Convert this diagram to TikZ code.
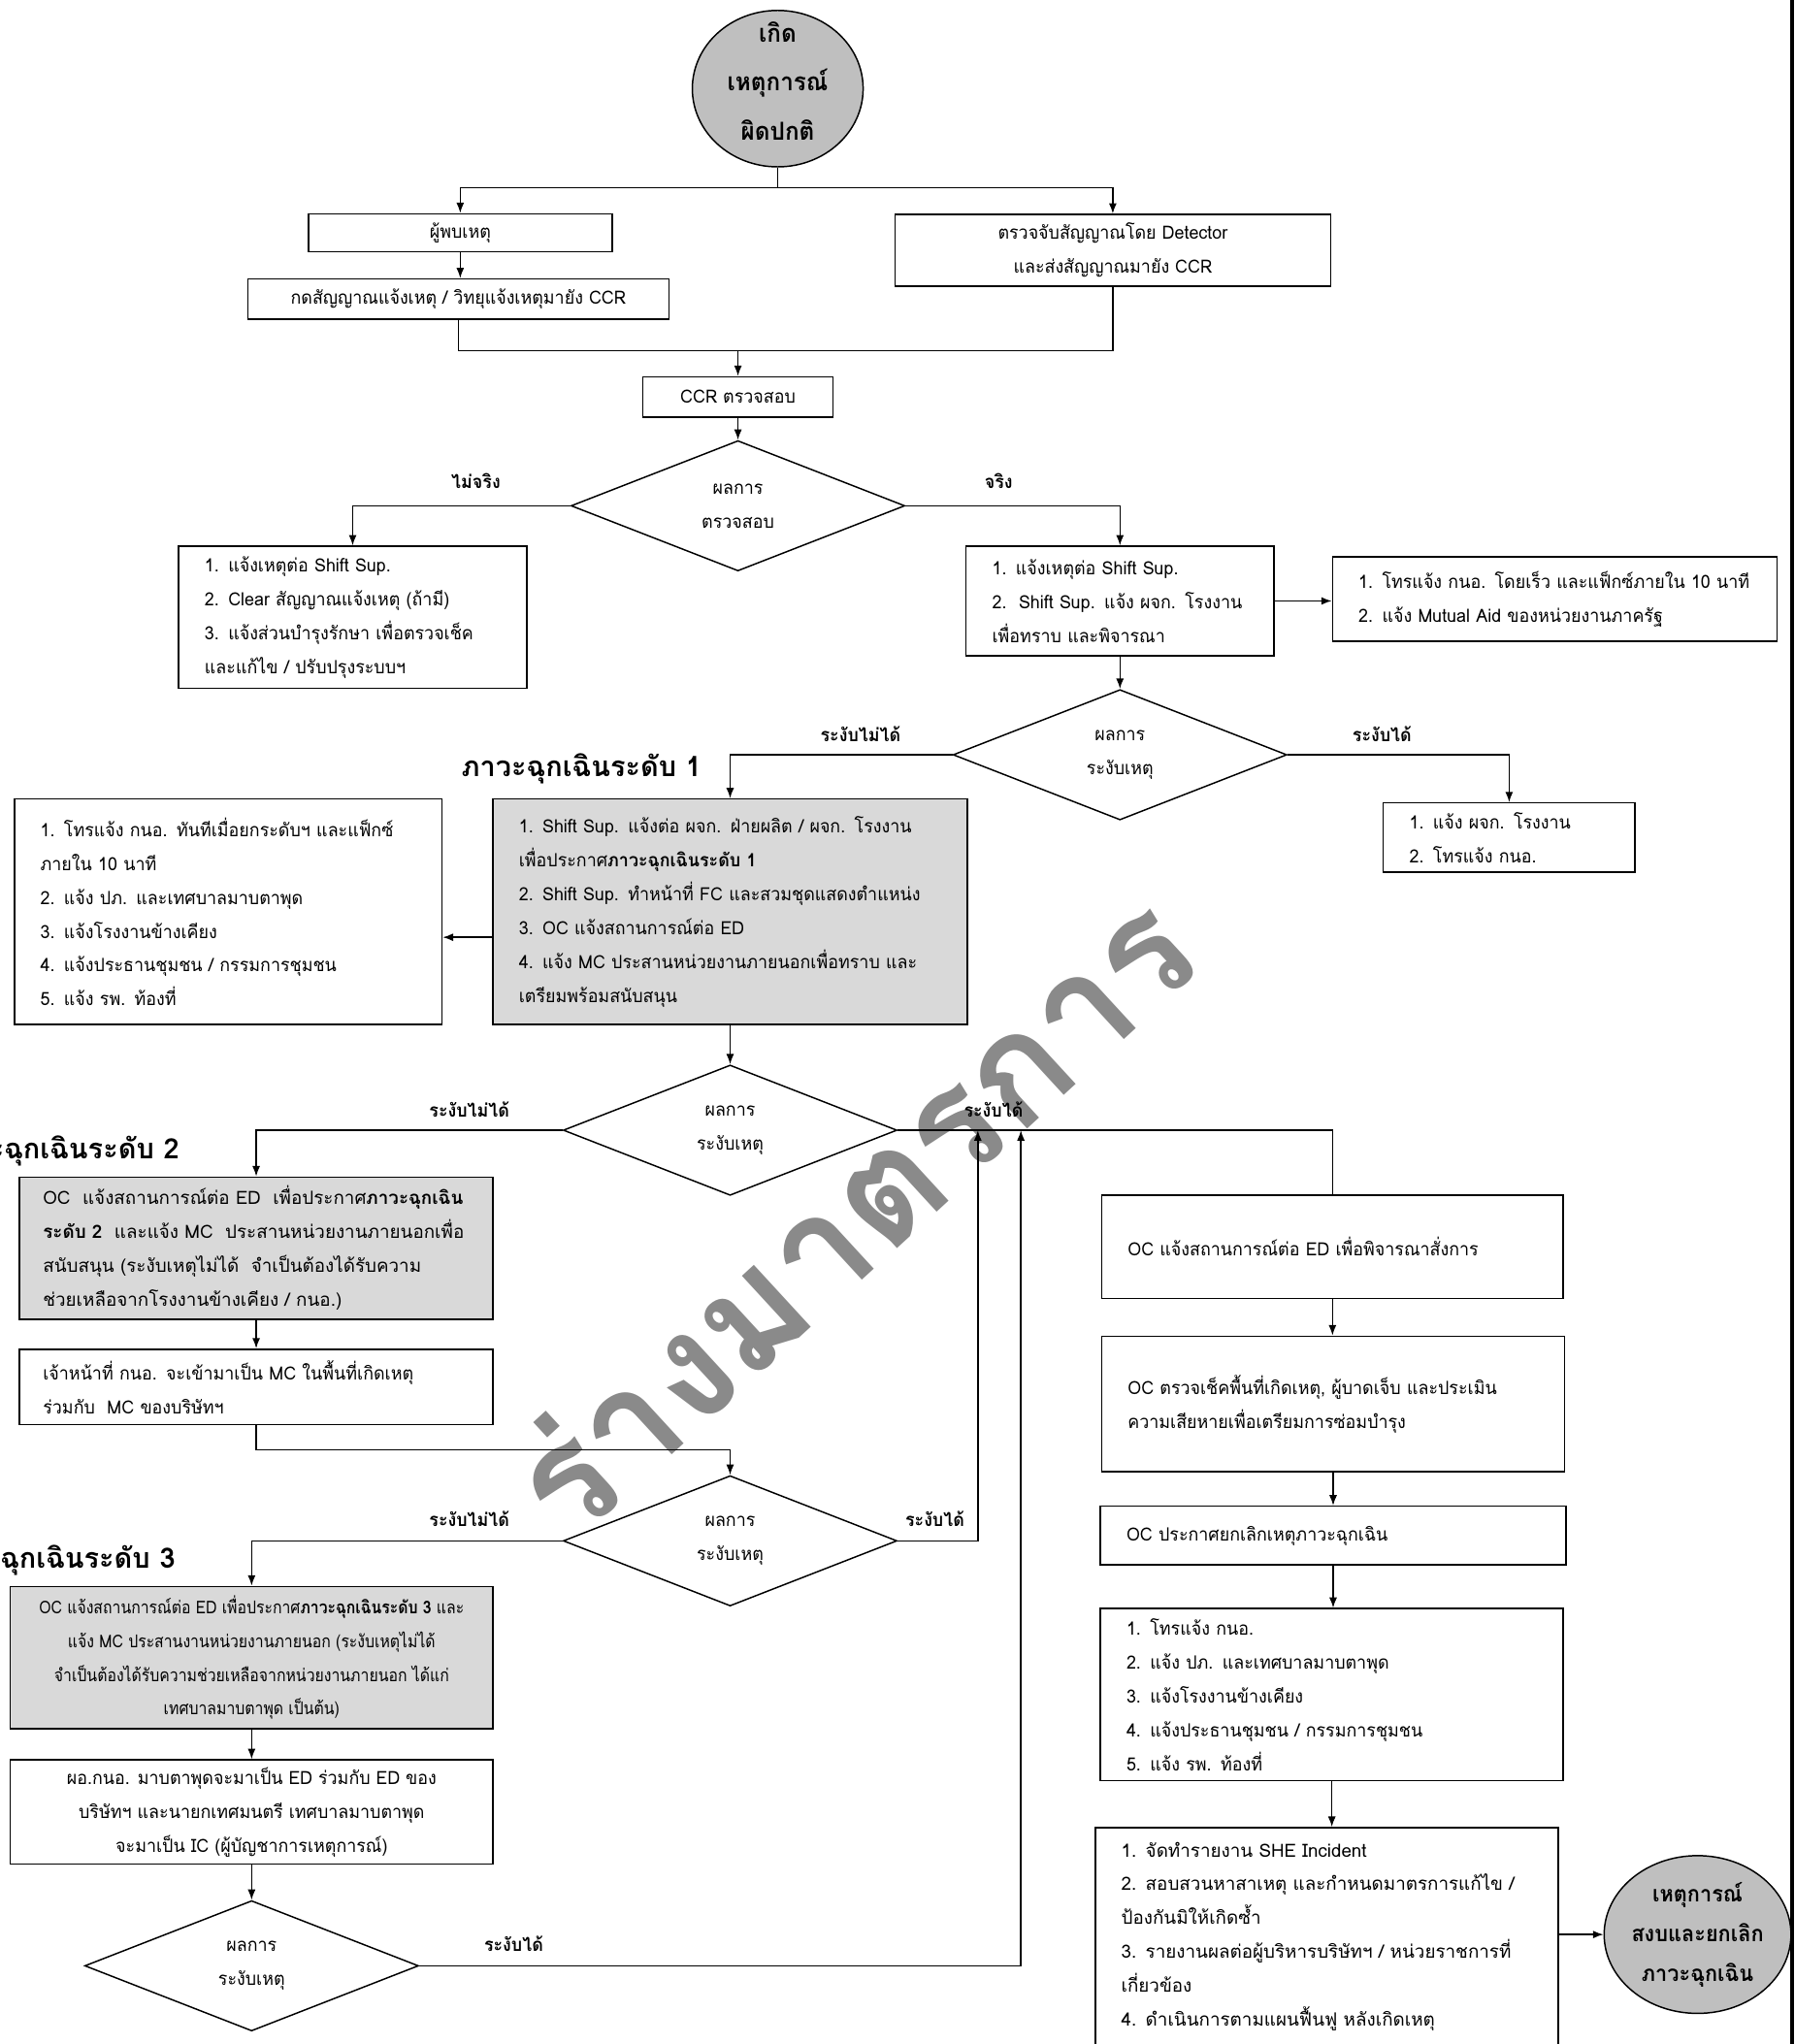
\documentclass[tikz,border=0pt]{standalone}
\usepackage{fontspec}
\setmainfont[Script=Thai,FakeStretch=0.95]{Loma}
\newfontfamily\wideth[Script=Thai]{Loma}
\newfontfamily\narrowth[Script=Thai,FakeStretch=0.87]{Loma}
\usetikzlibrary{shapes.geometric,arrows.meta}
\definecolor{boxgray}{HTML}{D9D9D9}
\definecolor{ovalgray}{HTML}{BFBFBF}
\definecolor{wmgray}{HTML}{8A8A8A}
\newcommand\QL[1]{\mbox{#1}}
\begin{document}
\begin{tikzpicture}[x=1pt,y=-1pt,
  line width=1.1pt,
  >={Latex[length=8pt,width=6pt]},
  body/.style={font=\fontsize{14}{26}\selectfont},
  lbox/.style={draw, rectangle, body, align=left, inner xsep=20pt, inner ysep=0pt},
  cbox/.style={draw, rectangle, body, align=center, inner sep=0pt},
  graybox/.style={fill=boxgray},
  dia/.style={draw, diamond, aspect=2.56, minimum width=256pt, minimum height=100pt, inner sep=0pt, align=center, body},
  oval/.style={draw, ellipse, fill=ovalgray, inner sep=0pt, align=center},
  lab/.style={font=\bfseries\fontsize{14}{16}\selectfont, inner sep=0pt},
  head/.style={font=\wideth\bfseries\fontsize{21.5}{24}\selectfont, inner sep=0pt},
  conn/.style={->}]
\path[clip] (0,0) rectangle (1376,1568);
\fill[white] (0,0) rectangle (1376,1568);
% watermark
\node[text=wmgray, rotate=42.6, inner sep=0pt, font=\wideth\bfseries\fontsize{116}{116}\selectfont] (wm) at (652,930) {ร่างมาตรการ};
% right edge bar
\fill (1373,0) rectangle (1376,1568);

% start
\node[oval, minimum width=131pt, minimum height=120pt] (start) at (596.5,68) {};
\node[inner sep=0pt, align=center, font=\bfseries\fontsize{19}{37.5}\selectfont] (startt) at (596.5,62) {เกิด\\เหตุการณ์\\ผิดปกติ};
\node[cbox, minimum width=233pt, minimum height=29pt] (finder) at (353,178.5) {ผู้พบเหตุ};
\node[cbox, minimum width=323pt, minimum height=31pt] (press) at (351.5,229.5) {กดสัญญาณแจ้งเหตุ / วิทยุแจ้งเหตุมายัง CCR};
\node[cbox, minimum width=334pt, minimum height=55pt] (det) at (853.5,192) {ตรวจจับสัญญาณโดย Detector\\และส่งสัญญาณมายัง CCR};
\node[cbox, minimum width=146pt, minimum height=31pt] (ccr) at (566,304.5) {CCR ตรวจสอบ};
\node[dia] (d1) at (566,388) {ผลการ\\ตรวจสอบ};
\node[lbox, minimum width=267pt, text width=227pt, minimum height=109pt] (nf) at (270.5,473.5)
 {\QL{1. แจ้งเหตุต่อ Shift Sup.}\\\QL{2. Clear สัญญาณแจ้งเหตุ (ถ้ามี)}\\\QL{3. แจ้งส่วนบำรุงรักษา เพื่อตรวจเช็ค}\\\QL{และแก้ไข / ปรับปรุงระบบฯ}};
\node[lbox, minimum width=236pt, text width=196pt, minimum height=84pt] (tr) at (859,461)
 {\QL{1. แจ้งเหตุต่อ Shift Sup.}\\\QL{2.\ \ Shift Sup. แจ้ง ผจก. โรงงาน}\\\QL{เพื่อทราบ และพิจารณา}};
\node[lbox, minimum width=341pt, text width=301pt, minimum height=65pt] (far) at (1192.5,459.5)
 {\QL{1. โทรแจ้ง กนอ. โดยเร็ว และแฟ็กซ์ภายใน 10 นาที}\\\QL{2. แจ้ง Mutual Aid ของหน่วยงานภาครัฐ}};
\node[dia] (d2) at (859,579) {ผลการ\\ระงับเหตุ};
\node[lbox, minimum width=193pt, text width=153pt, minimum height=53pt] (ok1) at (1157.5,642.5)
 {\QL{1. แจ้ง ผจก. โรงงาน}\\\QL{2. โทรแจ้ง กนอ.}};
\node[head] (h1) at (446,590) {ภาวะฉุกเฉินระดับ 1};
\node[lbox, graybox, minimum width=364pt, text width=324pt, minimum height=173pt] (L1) at (560,699.5)
 {\QL{1. Shift Sup. แจ้งต่อ ผจก. ฝ่ายผลิต / ผจก. โรงงาน}\\\QL{เพื่อประกาศ\textbf{ภาวะฉุกเฉินระดับ 1}}\\\QL{2. Shift Sup. ทำหน้าที่ FC และสวมชุดแสดงตำแหน่ง}\\\QL{3. OC แจ้งสถานการณ์ต่อ ED}\\\QL{4. แจ้ง MC ประสานหน่วยงานภายนอกเพื่อทราบ และ}\\\QL{เตรียมพร้อมสนับสนุน}};
\node[lbox, minimum width=328pt, text width=288pt, minimum height=173pt] (L1a) at (175,699.5)
 {\QL{1. โทรแจ้ง กนอ. ทันทีเมื่อยกระดับฯ และแฟ็กซ์}\\\QL{ภายใน 10 นาที}\\\QL{2. แจ้ง ปภ. และเทศบาลมาบตาพุด}\\\QL{3. แจ้งโรงงานข้างเคียง}\\\QL{4. แจ้งประธานชุมชน / กรรมการชุมชน}\\\QL{5. แจ้ง รพ. ท้องที่}};
\coordinate (a1) at (360,719);
\node[dia] (d3) at (560,867) {ผลการ\\ระงับเหตุ};
\node[head, anchor=east] (h2) at (138,883) {ภาวะฉุกเฉินระดับ 2};
\node[lbox, graybox, minimum width=363pt, text width=327pt, inner xsep=18pt, minimum height=109pt, font=\wideth\fontsize{14}{26}\selectfont] (L2) at (196.5,957.5)
 {\QL{OC\ \ แจ้งสถานการณ์ต่อ ED\ \ เพื่อประกาศ\textbf{ภาวะฉุกเฉิน}}\\\QL{\textbf{ระดับ 2}\ \ และแจ้ง MC\ \ ประสานหน่วยงานภายนอกเพื่อ}\\\QL{สนับสนุน (ระงับเหตุไม่ได้\ \ จำเป็นต้องได้รับความ}\\\QL{ช่วยเหลือจากโรงงานข้างเคียง / กนอ.)}};
\node[lbox, minimum width=363pt, text width=327pt, inner xsep=18pt, minimum height=58pt] (L2b) at (196.5,1064)
 {\QL{เจ้าหน้าที่ กนอ. จะเข้ามาเป็น MC ในพื้นที่เกิดเหตุ}\\\QL{ร่วมกับ\ \ MC ของบริษัทฯ}};
\coordinate (j2) at (560,1112);
\node[dia] (d4) at (560,1182) {ผลการ\\ระงับเหตุ};
\node[head, anchor=east] (h3) at (135,1197) {ภาวะฉุกเฉินระดับ 3};
\node[cbox, graybox, minimum width=370pt, minimum height=109pt, font=\narrowth\fontsize{13.5}{26}\selectfont] (L3) at (193,1271.5)
 {OC แจ้งสถานการณ์ต่อ ED เพื่อประกาศ\textbf{ภาวะฉุกเฉินระดับ 3} และ\\แจ้ง MC ประสานงานหน่วยงานภายนอก (ระงับเหตุไม่ได้\\จำเป็นต้องได้รับความช่วยเหลือจากหน่วยงานภายนอก ได้แก่\\เทศบาลมาบตาพุด เป็นต้น)};
\node[cbox, minimum width=370pt, minimum height=80pt] (L3b) at (193,1390)
 {ผอ.กนอ. มาบตาพุดจะมาเป็น ED ร่วมกับ ED ของ\\บริษัทฯ และนายกเทศมนตรี เทศบาลมาบตาพุด\\จะมาเป็น IC (ผู้บัญชาการเหตุการณ์)};
\node[dia] (d5) at (193,1508) {ผลการ\\ระงับเหตุ};
\coordinate (u1) at (750,867);
\coordinate (u2) at (783,867);
% right column
\node[lbox, minimum width=354pt, text width=314pt, minimum height=79pt] (R1) at (1022,956.5)
 {\QL{OC แจ้งสถานการณ์ต่อ ED เพื่อพิจารณาสั่งการ}};
\node[lbox, minimum width=355pt, text width=315pt, minimum height=104pt] (R2) at (1022.5,1077)
 {\QL{OC ตรวจเช็คพื้นที่เกิดเหตุ, ผู้บาดเจ็บ และประเมิน}\\\QL{ความเสียหายเพื่อเตรียมการซ่อมบำรุง}};
\node[lbox, minimum width=357pt, text width=317pt, minimum height=45pt] (R3) at (1022.5,1178)
 {\QL{OC ประกาศยกเลิกเหตุภาวะฉุกเฉิน}};
\node[lbox, minimum width=355pt, text width=315pt, minimum height=132pt] (R4) at (1021.5,1300)
 {\QL{1. โทรแจ้ง กนอ.}\\\QL{2. แจ้ง ปภ. และเทศบาลมาบตาพุด}\\\QL{3. แจ้งโรงงานข้างเคียง}\\\QL{4. แจ้งประธานชุมชน / กรรมการชุมชน}\\\QL{5. แจ้ง รพ. ท้องที่}};
\node[lbox, minimum width=355pt, text width=315pt, minimum height=167pt, font=\wideth\fontsize{14}{26}\selectfont] (R5) at (1017.5,1485.5)
 {\QL{1. จัดทำรายงาน SHE Incident}\\\QL{2. สอบสวนหาสาเหตุ และกำหนดมาตรการแก้ไข /}\\\QL{ป้องกันมิให้เกิดซ้ำ}\\\QL{3. รายงานผลต่อผู้บริหารบริษัทฯ / หน่วยราชการที่}\\\QL{เกี่ยวข้อง}\\\QL{4. ดำเนินการตามแผนฟื้นฟู หลังเกิดเหตุ}};
\node[oval, minimum width=120pt, minimum height=121pt, font=\bfseries\fontsize{17}{30.5}\selectfont] (endn) at (1302,1484) {เหตุการณ์\\สงบและยกเลิก\\ภาวะฉุกเฉิน};

% labels
\node[lab] (l1) at (365,369) {ไม่จริง};
\node[lab] (l2) at (766,369) {จริง};
\node[lab] (l3) at (660,563) {ระงับไม่ได้};
\node[lab] (l4) at (1060,563) {ระงับได้};
\node[lab] (l5) at (360,851) {ระงับไม่ได้};
\node[lab] (l6) at (762,851) {ระงับได้};
\node[lab] (l7) at (360,1165) {ระงับไม่ได้};
\node[lab] (l8) at (717,1165) {ระงับได้};
\node[lab] (l9) at (394,1491) {ระงับได้};

% connectors
\coordinate (j0) at (596.5,144);
\draw (start.south) -- (j0);
\draw[conn] (j0) -| (finder.north);
\draw[conn] (j0) -| (det.north);
\draw[conn] (finder.south) -- (finder.south |- press.north);
\coordinate (j1) at (566,269);
\draw (press.south) |- (det.south |- j1) -- (det.south);
\draw[conn] (ccr.north |- j1) -- (ccr.north);
\draw[conn] (ccr.south) -- (d1.north);
\draw[conn] (d1.west) -| (nf.north);
\draw[conn] (d1.east) -| (tr.north);
\draw[conn] (tr.east) -- (tr.east -| far.west);
\draw[conn] (tr.south) -- (d2.north);
\draw[conn] (d2.west) -| (L1.north);
\draw[conn] (d2.east) -| (ok1.north);
\draw[conn] (L1.west |- a1) -- (L1a.east |- a1);
\draw[conn] (L1.south) -- (d3.north);
\draw[conn] (d3.west) -| (L2.north);
\draw (d3.east) -| (R1.north);
\draw[conn] (L2.south) -- (L2b.north);
\draw[conn] (L2b.south) |- (j2) -- (d4.north);
\draw[conn] (d4.west) -| (L3.north);
\draw[conn] (d4.east) -| (u1);
\draw[conn] (L3.south) -- (L3b.north);
\draw[conn] (L3b.south) -- (d5.north);
\draw[conn] (d5.east) -| (u2);
\draw[conn] (R1.south) -- (R1.south |- R2.north);
\draw[conn] (R2.south) -- (R2.south |- R3.north);
\draw[conn] (R3.south) -- (R3.south |- R4.north);
\draw[conn] (R4.south) -- (R4.south |- R5.north);
\draw[conn] (R5.east |- endn.west) -- (endn.west);
\end{tikzpicture}
\end{document}
